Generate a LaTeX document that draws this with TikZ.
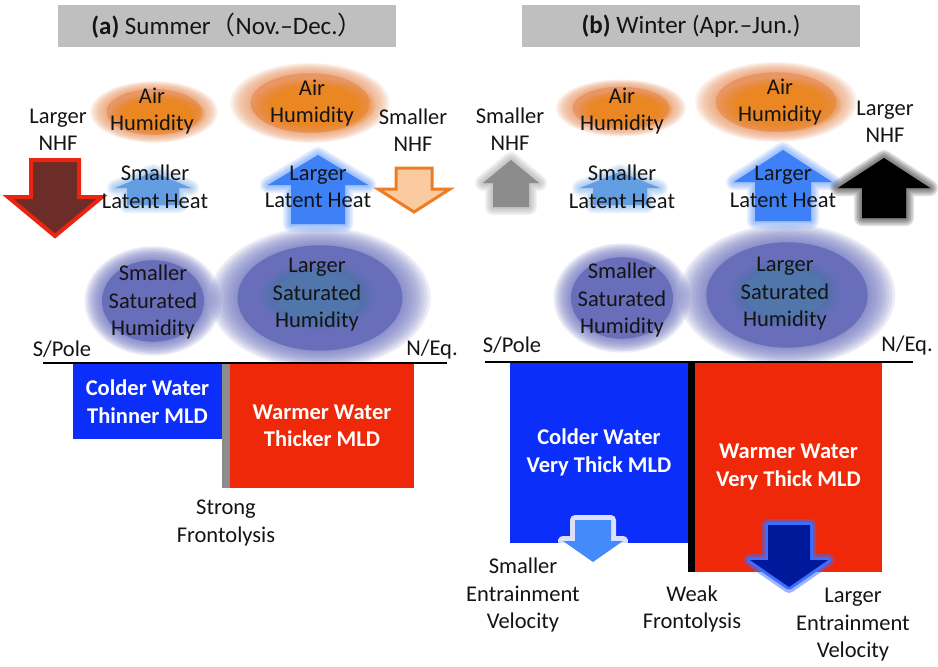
\documentclass[tikz,border=0pt]{standalone}
\usepackage{fontspec}
\setmainfont{Carlito}
\newfontfamily\cjk{Noto Sans CJK SC}
\definecolor{titlegray}{RGB}{191,191,191}
\definecolor{cloudout}{RGB}{232,150,100}
\definecolor{cloudin}{RGB}{234,135,35}
\definecolor{satout}{RGB}{104,110,186}
\definecolor{satin}{RGB}{80,118,172}
\definecolor{coldblue}{RGB}{12,46,250}
\definecolor{warmred}{RGB}{238,40,8}
\definecolor{brownarr}{RGB}{108,45,40}
\definecolor{redline}{RGB}{236,35,15}
\definecolor{peach}{RGB}{251,203,160}
\definecolor{orangeline}{RGB}{236,125,35}
\definecolor{lhbig}{RGB}{62,128,246}
\definecolor{lhsmall}{RGB}{100,158,226}
\definecolor{grayarr}{RGB}{140,140,140}
\definecolor{entsmall}{RGB}{68,138,250}
\definecolor{entbig}{RGB}{0,25,155}
\definecolor{entglow}{RGB}{60,110,255}
\definecolor{txt}{RGB}{20,20,20}
\definecolor{fronto}{RGB}{140,140,140}
% arrow: #1 options, #2 cx, #3 tip y, #4 head half width, #5 head base y, #6 shaft half width, #7 shaft end y
\newcommand{\arr}[7]{\path[#1] (#2,#3) -- ({#2+#4},#5) -- ({#2+#6},#5) -- ({#2+#6},#7) -- ({#2-#6},#7) -- ({#2-#6},#5) -- ({#2-#4},#5) -- cycle;}
\newcommand{\softarr}[7]{%
  \foreach \w in {16,13,10,7,4}{\arr{fill=#1,draw=#1,line width=\w pt,opacity=0.12,line join=round}{#2}{#3}{#4}{#5}{#6}{#7}}%
  \arr{fill=#1}{#2}{#3}{#4}{#5}{#6}{#7}}
% blob: #1 colour, #2 x, #3 y, #4 rx, #5 ry
\newcommand{\blob}[5]{%
  \foreach \i in {0,...,9}{\pgfmathsetmacro\sc{1.14-0.03*\i}\fill[#1,opacity=0.13] (#2,#3) ellipse [x radius={\sc*#4 pt}, y radius={\sc*#5 pt}];}%
  \fill[#1] (#2,#3) ellipse [x radius={0.85*#4 pt}, y radius={0.85*#5 pt}];}
\begin{document}
\begin{tikzpicture}[x=1pt,y=-1pt,
  every node/.style={inner sep=0pt, align=center, text=txt, font=\fontsize{22.5}{27.5}\selectfont},
  titlebox/.style={fill=titlegray, minimum width=338pt, minimum height=42pt, font=\fontsize{25}{30}\selectfont},
  waterbox/.style={text=white, font=\fontsize{22.5}{27.5}\selectfont\bfseries},
  surface/.style={line width=2.2pt, black}]
\useasboundingbox (0,0) rectangle (938,667);

% ---------- titles ----------
\node[titlebox] (ta) at (227,26) {\textbf{(a)} Summer{\cjk （}Nov.–Dec.{\cjk ）}};
\node[titlebox] (tb) at (691,26) {\textbf{(b)} Winter (Apr.–Jun.)};

% ---------- panel (a) clouds / blobs ----------
\blob{cloudout}{154}{112}{56}{27}
\blob{cloudin}{158}{114}{42}{18}
\blob{cloudout}{310}{103}{70}{35}
\blob{cloudin}{314}{106}{54}{24}
\blob{satout}{153}{301}{60}{48}
\blob{satout}{320}{298}{97}{62}
\blob{satin}{318}{296}{50}{30}

% ---------- panel (b) clouds / blobs ----------
\blob{cloudout}{621}{108}{57}{25}
\blob{cloudin}{625}{110}{42}{17}
\blob{cloudout}{776}{102}{71}{35}
\blob{cloudin}{780}{105}{54}{24}
\blob{satout}{622}{298}{60}{48}
\blob{satout}{787}{295}{95}{62}
\blob{satin}{785}{293}{48}{30}

% ---------- panel (a) arrows ----------
\arr{fill=brownarr, draw=redline, line width=4pt, line join=miter}{55}{236}{47}{197}{24}{160}
\arr{fill=peach, draw=orangeline, line width=3pt, line join=miter}{414}{212}{36}{189}{18}{168}
\softarr{lhsmall}{153}{172}{38}{188}{26}{205}
\softarr{lhbig}{318}{155}{50}{185}{27}{224}

% ---------- panel (b) arrows ----------
\softarr{grayarr}{511}{160}{28}{183}{18}{207}
\softarr{lhsmall}{620}{172}{40}{188}{27}{205}
\softarr{lhbig}{783}{150}{49}{182}{28}{221}
\softarr{black}{884}{158}{46}{188}{22}{218}

% ---------- panel (a) ocean ----------
\node[waterbox, fill=coldblue, minimum width=149pt, minimum height=75pt] (acold) at (147.5,401.5) {Colder Water\\Thinner MLD};
\node[waterbox, fill=warmred, minimum width=184pt, minimum height=124pt] (awarm) at (322,426) {Warmer Water\\Thicker MLD};
\fill[fronto] (acold.north east) rectangle ([xshift=8pt]acold.north east |- awarm.south);
\coordinate (aw) at (43,363);
\coordinate (ae) at (447,363);
\draw[surface] (aw) -- (ae);

% ---------- panel (b) ocean ----------
\node[waterbox, fill=coldblue, minimum width=178pt, minimum height=181pt] (bcold) at (599,452.5) {Colder Water\\Very Thick MLD};
\node[waterbox, fill=warmred, minimum width=187pt, minimum height=210pt] (bwarm) at (788.5,467) {Warmer Water\\Very Thick MLD};
\fill[black] (bcold.north east) rectangle ([xshift=7pt]bcold.north east |- bwarm.south);
\coordinate (bw) at (485,362);
\coordinate (be) at (913,362);
\draw[surface] (bw) -- (be);

% entrainment arrows
\arr{fill=white, draw=white, line width=10pt, opacity=0.85, line join=round}{593}{562}{30}{541}{18}{520}
\arr{fill=entsmall}{593}{562}{30}{541}{18}{520}
\arr{fill=entglow, draw=entglow, line width=12pt, opacity=0.5, line join=round}{789}{587}{39}{560}{21}{525}
\arr{fill=entglow, draw=entglow, line width=6pt, line join=round}{789}{587}{39}{560}{21}{525}
\arr{fill=entbig}{789}{587}{39}{560}{21}{525}

% ---------- panel (a) labels ----------
\node (anhfL) at (58,130) {Larger\\NHF};
\node (aair1) at (152,111) {Air\\Humidity};
\node (aair2) at (312,103) {Air\\Humidity};
\node (anhfS) at (413,130) {Smaller\\NHF};
\node (alhS) at (155,187) {Smaller\\Latent Heat};
\node (alhL) at (318,187) {Larger\\Latent Heat};
\node (asatS) at (153,302) {Smaller\\Saturated\\Humidity};
\node (asatL) at (317,295) {Larger\\Saturated\\Humidity};
\node (apole) at (62,349) {S/Pole};
\node (aeq) at (432,349) {N/Eq.};
\node (afront) at (226,523) {Strong\\Frontolysis};

% ---------- panel (b) labels ----------
\node (bnhfS) at (510,129) {Smaller\\NHF};
\node (bair1) at (622,111) {Air\\Humidity};
\node (bair2) at (780,102) {Air\\Humidity};
\node (bnhfL) at (885,122) {Larger\\NHF};
\node (blhS) at (622,187) {Smaller\\Latent Heat};
\node (blhL) at (783,187) {Larger\\Latent Heat};
\node (bsatS) at (622,300) {Smaller\\Saturated\\Humidity};
\node (bsatL) at (785,294) {Larger\\Saturated\\Humidity};
\node (bpole) at (512,345) {S/Pole};
\node (beq) at (907,345) {N/Eq.};
\node (bentS) at (523,595) {Smaller\\Entrainment\\Velocity};
\node (bfront) at (692,609) {Weak\\Frontolysis};
\node (bentL) at (853,625) {Larger\\Entrainment\\Velocity};
\end{tikzpicture}
\end{document}
